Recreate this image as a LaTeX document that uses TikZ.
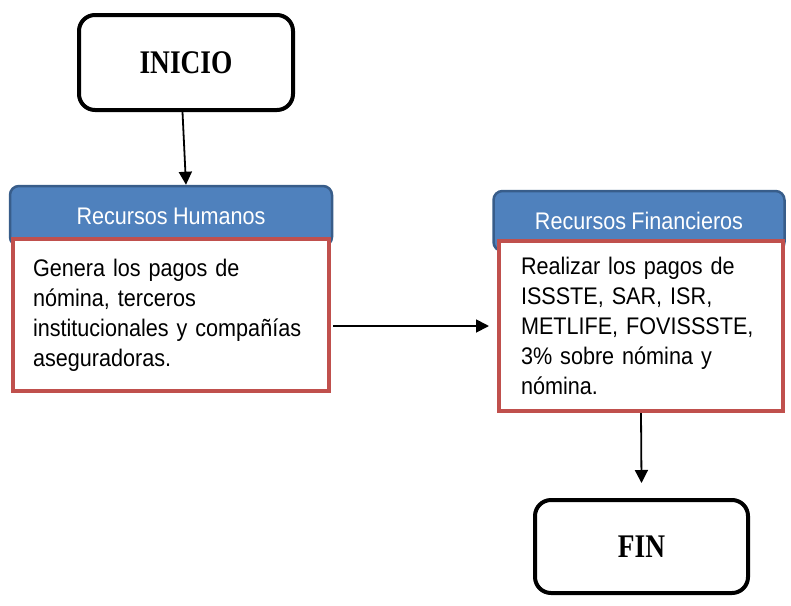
\documentclass[tikz,border=0pt]{standalone}
\usepackage{fontspec}
\setmainfont{Liberation Sans}[FakeStretch=0.9,WordSpace=0.88]
\newfontfamily\serifbold{Liberation Serif}[FakeStretch=0.83]
\usepackage{tikz}
\usetikzlibrary{arrows.meta}
\definecolor{azul}{HTML}{4F81BD}
\definecolor{azulborde}{HTML}{385D8A}
\definecolor{rojo}{HTML}{C0504D}
\tikzset{
  limite/.style={draw=black,line width=4pt,rounded corners=16pt,fill=white,
    font=\serifbold\bfseries\fontsize{33}{36}\selectfont},
  cabeza/.style={draw=azulborde,fill=azul,line width=2.5pt,rounded corners=9pt,
    text=white,font=\fontsize{24}{28}\selectfont},
  cuerpo/.style={draw=rojo,fill=white,line width=4pt,align=left,
    font=\fontsize{24}{30}\selectfont},
  flecha/.style={line width=1.8pt,-{Triangle[length=13pt,width=13pt]}}
}

\begin{document}
\begin{tikzpicture}[x=1pt,y=-1pt]
  \useasboundingbox (0,0) rectangle (791,605);
  \node [limite,minimum width=214pt,minimum height=95pt] (inicio) at (186,62.5) {INICIO};
  \node [cabeza,minimum width=322pt,minimum height=60pt] (rhhead) at (171,216) {Recursos Humanos};
  \node [cuerpo,minimum height=152pt,text width=276pt,inner xsep=20pt] (rhbody) at (171,315)
    {Genera los pagos de\\n\'omina, terceros\\institucionales y compa\~n\'ias\\aseguradoras.};
  \node [cabeza,minimum width=291pt,minimum height=60pt] (rfhead) at (639,221) {Recursos Financieros};
  \node [cuerpo,minimum height=170pt,text width=240pt,inner xsep=22pt] (rfbody) at (641,326)
    {Realizar los pagos de\\ISSSTE, SAR, ISR,\\METLIFE, FOVISSSTE,\\3\% sobre n\'omina y\\n\'omina.};
  \node [limite,minimum width=213pt,minimum height=93pt] (fin) at (641.5,546.5) {FIN};
  \draw [flecha] ([xshift=-3.5pt]inicio.south) -- (inicio.south |- rhhead.north);
  \draw [flecha] ([xshift=2pt]rhbody.east |- rfbody.west) -- ([xshift=-8pt]rfbody.west);
  \draw [flecha] (rfbody.south) -- ([yshift=15pt]fin.north);
\end{tikzpicture}
\end{document}
